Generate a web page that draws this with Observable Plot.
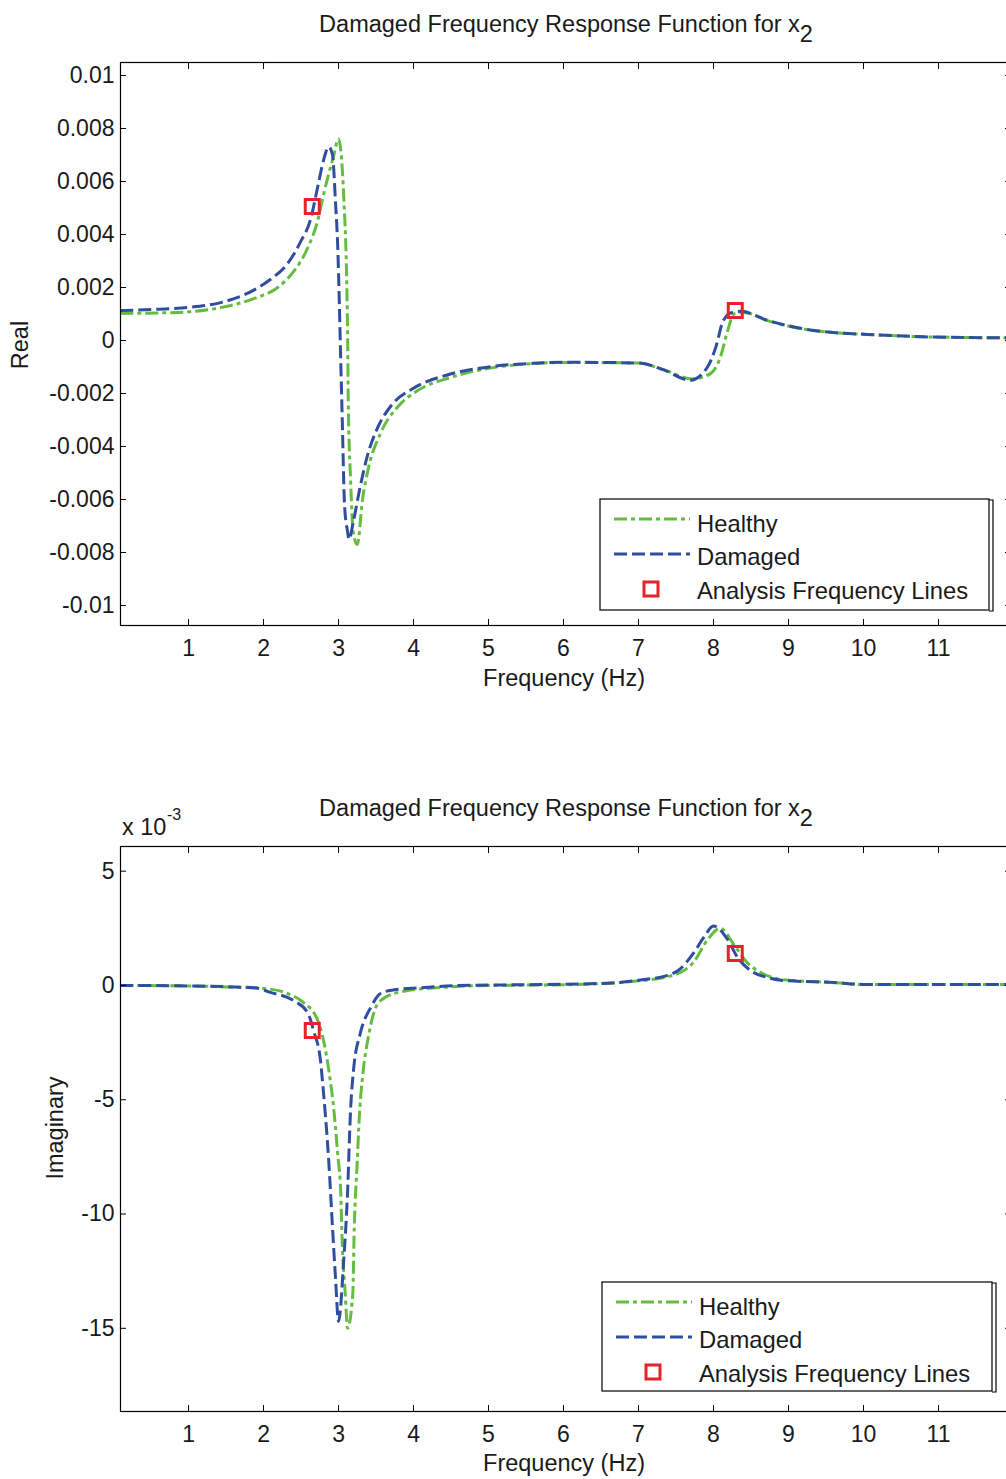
<!DOCTYPE html>
<html><head><meta charset="utf-8">
<script src="https://cdn.jsdelivr.net/npm/d3@7"></script>
<script src="https://cdn.jsdelivr.net/npm/@observablehq/plot@0.6"></script>
<style>
html,body{margin:0;padding:0;background:#fff;overflow:hidden;}
#chart svg{display:block;}
</style></head><body><div id="chart"></div>
<script>
// ---------- data ----------
const xTicks = [1, 2, 3, 4, 5, 6, 7, 8, 9, 10, 11];
const realTicks = [-0.01, -0.008, -0.006, -0.004, -0.002, 0, 0.002, 0.004, 0.006, 0.008, 0.01];
const imagTicks = [-15, -10, -5, 0, 5];

const healthyRealFreq = [0.09, 0.6, 1.0, 1.44, 1.87, 2.19, 2.4, 2.59, 2.72, 2.8, 2.87, 2.93, 3.0, 3.07, 3.12, 3.13, 3.16, 3.2, 3.25, 3.32, 3.4, 3.56, 3.79, 4.05, 4.49, 5.0, 5.56, 6.0, 7.0, 7.33, 7.72, 7.96, 8.09, 8.19, 8.27, 8.4, 8.72, 9.16, 9.6, 10.05, 10.93, 11.96];
const healthyReal = [0.00102, 0.00104, 0.00108, 0.00125, 0.00158, 0.002, 0.0026, 0.0035, 0.0045, 0.0055, 0.0063, 0.0069, 0.0076, 0.0054, 0.0005, -0.0023, -0.0052, -0.0073, -0.0077, -0.006, -0.0048, -0.0035, -0.0025, -0.0019, -0.0014, -0.00105, -0.00088, -0.00083, -0.00085, -0.0011, -0.00145, -0.00125, -0.00064, 0.00038, 0.001, 0.00106, 0.00075, 0.00045, 0.0003, 0.00023, 0.00013, 0.0001];

const damagedRealFreq = [0.09, 0.6, 1.0, 1.43, 1.87, 2.09, 2.32, 2.49, 2.63, 2.73, 2.8, 2.87, 2.92, 2.96, 2.99, 3.01, 3.03, 3.05, 3.08, 3.12, 3.14, 3.2, 3.29, 3.39, 3.52, 3.69, 4.0, 4.45, 5.0, 5.6, 6.0, 7.0, 7.33, 7.69, 7.92, 8.03, 8.13, 8.25, 8.37, 8.72, 9.16, 9.6, 10.05, 10.93, 11.96];
const damagedReal = [0.00113, 0.00118, 0.00125, 0.00143, 0.0019, 0.0023, 0.0029, 0.0037, 0.0046, 0.0059, 0.0068, 0.0073, 0.0070, 0.0052, 0.0035, 0.0015, -0.0008, -0.003, -0.0062, -0.0072, -0.0075, -0.0068, -0.0055, -0.0043, -0.0033, -0.0025, -0.0018, -0.0013, -0.001, -0.00086, -0.00082, -0.00085, -0.0011, -0.0015, -0.001, -0.00026, 0.00075, 0.00106, 0.0011, 0.00076, 0.00046, 0.0003, 0.00023, 0.00013, 0.0001];

// imaginary part, in units of 1e-3
const healthyImagFreq = [0.09, 1.0, 1.65, 2.0, 2.32, 2.53, 2.72, 2.8, 2.87, 2.93, 2.99, 3.03, 3.05, 3.09, 3.12, 3.19, 3.21, 3.25, 3.27, 3.33, 3.39, 3.47, 3.56, 3.87, 4.3, 5.0, 6.0, 7.07, 7.41, 7.56, 7.73, 7.92, 8.09, 8.27, 8.45, 8.63, 8.93, 9.6, 10.0, 11.96];
const healthyImag = [0, -0.02, -0.08, -0.13, -0.35, -0.74, -1.5, -2.4, -3.7, -5.2, -7.4, -9.1, -11.3, -13.5, -15.0, -13.5, -10.6, -7.7, -6.2, -3.7, -2.4, -1.2, -0.66, -0.25, -0.1, 0, 0.03, 0.22, 0.4, 0.57, 1.0, 2.0, 2.5, 1.8, 1.0, 0.57, 0.25, 0.13, 0.04, 0.04];

const damagedImagFreq = [0.09, 1.0, 1.87, 2.09, 2.4, 2.59, 2.67, 2.76, 2.8, 2.87, 2.92, 2.96, 3.0, 3.07, 3.12, 3.16, 3.2, 3.29, 3.43, 3.56, 3.73, 4.1, 4.6, 5.7, 6.6, 7.07, 7.39, 7.56, 7.73, 7.87, 8.0, 8.19, 8.32, 8.49, 8.72, 8.93, 9.6, 10.05, 11.96];
const damagedImag = [0, -0.02, -0.1, -0.3, -0.66, -1.2, -2.0, -3.3, -4.7, -7.7, -10.6, -12.8, -14.7, -12, -9.1, -5.5, -3.7, -2.1, -0.96, -0.35, -0.2, -0.1, 0, 0.04, 0.1, 0.26, 0.44, 0.74, 1.4, 2.1, 2.6, 2.0, 1.23, 0.66, 0.35, 0.22, 0.13, 0.04, 0.04];

const analysisFreq = [2.65, 8.29];
const analysisReal = [0.00506, 0.00113];
const analysisImag = [-1.97, 1.4];

const legendLabels = ["Healthy", "Damaged", "Analysis Frequency Lines"];
const titleText = "Damaged Frequency Response Function for x";
const titleSub = "2";

// ---------- style ----------
const GREEN = "#63bd3e", BLUE = "#2f4ea0", RED = "#e8222b";
const FONT = "'Liberation Sans', Arial, Helvetica, sans-serif";
const W = 1006;
const xDomain = [0.093, 11.96];

const zip = (fs, vs) => fs.map((f, i) => ({f, v: vs[i]}));

function panel({height, marginTop, marginBottom, yDomain, yTicks, yFmt, healthy, damaged, squares}) {
  return Plot.plot({
    width: W, height, marginLeft: 120, marginRight: -4, marginTop, marginBottom,
    style: {fontFamily: FONT, fontSize: "23px", color: "#1a1a1a", background: "white", overflow: "hidden"},
    x: {domain: xDomain},
    y: {domain: yDomain},
    marks: [
      Plot.line(healthy, {x: "f", y: "v", stroke: GREEN, strokeWidth: 3, strokeDasharray: "13,4,4,4", strokeLinecap: "butt", curve: "monotone-x", clip: true}),
      Plot.line(damaged, {x: "f", y: "v", stroke: BLUE, strokeWidth: 3, strokeDasharray: "13,5", strokeLinecap: "butt", curve: "monotone-x", clip: true}),
      Plot.dot(squares, {x: "f", y: "v", symbol: "square", r: 7.9, stroke: RED, strokeWidth: 3, fill: "none"}),
      Plot.frame({stroke: "#000", strokeWidth: 1.2}),
      Plot.axisX(xTicks, {anchor: "bottom", tickSize: -6, tickPadding: 20, label: null, tickFormat: d => String(d), stroke: "#000"}),
      Plot.axisX(xTicks, {anchor: "top", tickSize: -6, label: null, tickFormat: () => "", stroke: "#000"}),
      Plot.axisY(yTicks, {anchor: "left", tickSize: -6, tickPadding: 12, label: null, tickFormat: yFmt, stroke: "#000"}),
      Plot.axisY(yTicks, {anchor: "right", tickSize: -6, label: null, tickFormat: () => "", stroke: "#000"})
    ]
  });
}

function addTitle(svg, baseline) {
  const t = d3.select(svg).append("text")
    .attr("x", 566).attr("y", baseline).attr("text-anchor", "middle")
    .attr("font-family", FONT).attr("font-size", 23.5).attr("fill", "#1a1a1a");
  t.append("tspan").text(titleText);
  t.append("tspan").attr("dy", 10).text(titleSub);
}

function addText(svg, txt, x, y, opts = {}) {
  const t = d3.select(svg).append("text")
    .attr("x", x).attr("y", y)
    .attr("font-family", FONT).attr("font-size", opts.size || 23.5)
    .attr("fill", "#1a1a1a")
    .attr("text-anchor", opts.anchor || "start")
    .text(txt);
  if (opts.rotate) t.attr("transform", `rotate(-90,${x},${y})`);
  return t;
}

function addLegend(svg, box) {
  const g = d3.select(svg).append("g").attr("text-anchor", "start");
  g.append("rect").attr("x", box.x0).attr("y", box.y0).attr("width", box.x1 - box.x0).attr("height", box.y1 - box.y0)
    .attr("fill", "white").attr("stroke", "#000").attr("stroke-width", 1.2);
  g.append("path").attr("d", `M${box.x1},${box.y0 + 1}H${box.x1 + 4}V${box.y1 + 1}H${box.x1}`)
    .attr("fill", "none").attr("stroke", "#000").attr("stroke-width", 1.2);
  const rows = [box.y0 + 20, box.y0 + 55, box.y0 + 90];
  g.append("line").attr("x1", box.x0 + 14).attr("x2", box.x0 + 90).attr("y1", rows[0]).attr("y2", rows[0])
    .attr("stroke", GREEN).attr("stroke-width", 3).attr("stroke-dasharray", "13,4,4,4");
  g.append("line").attr("x1", box.x0 + 14).attr("x2", box.x0 + 90).attr("y1", rows[1]).attr("y2", rows[1])
    .attr("stroke", BLUE).attr("stroke-width", 3).attr("stroke-dasharray", "13,5");
  g.append("rect").attr("x", box.x0 + 51 - 7).attr("y", rows[2] - 7).attr("width", 14).attr("height", 14)
    .attr("fill", "none").attr("stroke", RED).attr("stroke-width", 3);
  legendLabels.forEach((lab, i) => {
    g.append("text").attr("x", box.x0 + 97).attr("y", rows[i] + [13, 11, 10][i])
      .attr("text-anchor", "start")
      .attr("font-family", FONT).attr("font-size", 23.8).attr("fill", "#1a1a1a").text(lab);
  });
}

// ---------- top panel ----------
const topSvg = panel({
  height: 740, marginTop: 62, marginBottom: 115,
  yDomain: [-0.010755, 0.01049], yTicks: realTicks,
  yFmt: d => String(+d.toFixed(4)),
  healthy: zip(healthyRealFreq, healthyReal),
  damaged: zip(damagedRealFreq, damagedReal),
  squares: zip(analysisFreq, analysisReal)
});
addTitle(topSvg, 32);
addText(topSvg, "Real", 28, 345, {rotate: true, anchor: "middle"});
addText(topSvg, "Frequency (Hz)", 564, 686, {anchor: "middle"});
addLegend(topSvg, {x0: 600, y0: 499, x1: 989, y1: 610});

// ---------- bottom panel ----------
const bottomSvg = panel({
  height: 739, marginTop: 106, marginBottom: 68,
  yDomain: [-18.64, 6.08], yTicks: imagTicks,
  yFmt: d => String(d),
  healthy: zip(healthyImagFreq, healthyImag),
  damaged: zip(damagedImagFreq, damagedImag),
  squares: zip(analysisFreq, analysisImag)
});
addTitle(bottomSvg, 76);
addText(bottomSvg, "Imaginary", 63, 388, {rotate: true, anchor: "middle"});
addText(bottomSvg, "Frequency (Hz)", 564, 731, {anchor: "middle"});
addText(bottomSvg, "x 10", 122, 95);
addText(bottomSvg, "-3", 167, 80, {size: 16});
addLegend(bottomSvg, {x0: 602, y0: 542, x1: 992, y1: 651});

document.getElementById("chart").append(topSvg, bottomSvg);
</script>
</body></html>
